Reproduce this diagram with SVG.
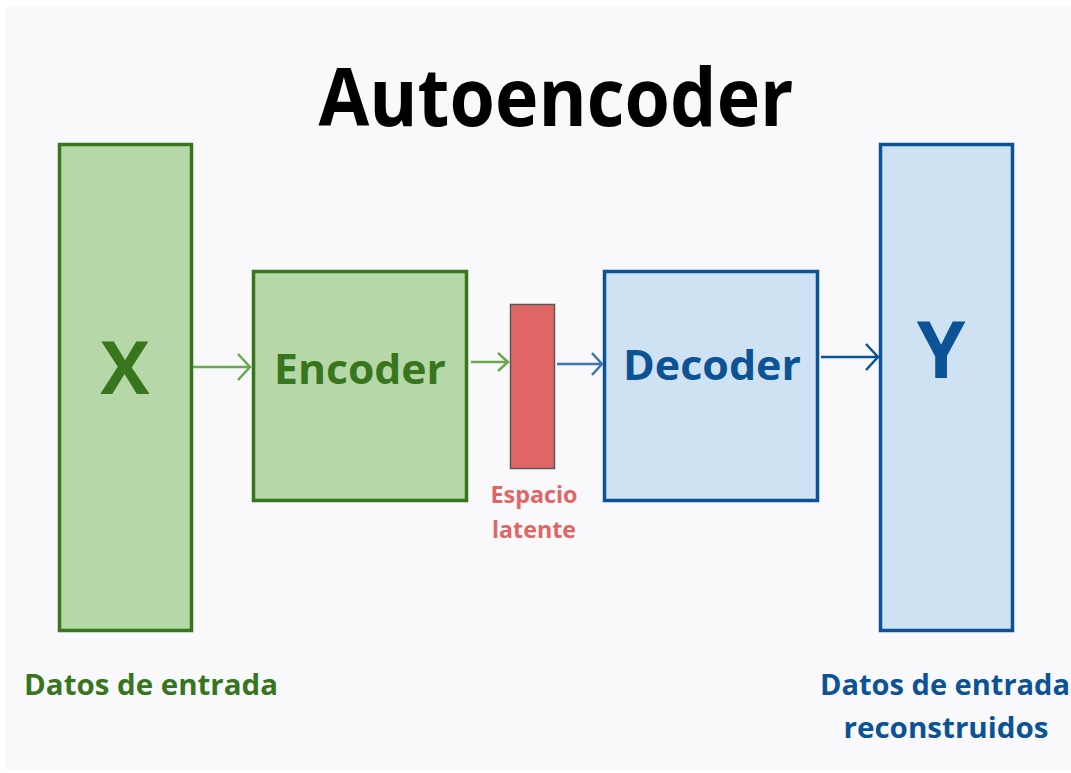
<svg xmlns="http://www.w3.org/2000/svg" width="1071" height="773" viewBox="0 0 1071 773">
<defs>
<style>
text{font-family:"Open Sans","Noto Sans","DejaVu Sans",sans-serif;font-weight:bold;text-anchor:middle}
.g{fill:#b6d7a8;stroke:#38761d;stroke-width:3.5}
.b{fill:#cfe2f3;stroke:#0b5394;stroke-width:3.5}
.gt{fill:#38761d}
.bt{fill:#0b5394}
.ga{stroke:#6aa84f;stroke-width:2.5;fill:none}
.ba{stroke:#3d75b0;stroke-width:2.5;fill:none}
.ba2{stroke:#0b5394;stroke-width:2.5;fill:none}
</style>
</defs>
<rect width="1071" height="773" fill="#ffffff"/>
<rect x="5" y="7" width="1066" height="763" fill="#f9f9fc"/>
<text x="556" y="126" font-size="80" font-weight="800" fill="#000" textLength="475" lengthAdjust="spacingAndGlyphs">Autoencoder</text>
<g id="x-node">
<rect class="g" x="59.5" y="144.5" width="132" height="486"/>
<text class="gt" x="125" y="394" font-size="74" font-weight="800">X</text>
<text class="gt" x="151" y="695" font-size="28" textLength="254" lengthAdjust="spacingAndGlyphs">Datos de entrada</text>
</g>
<g id="encoder">
<rect class="g" x="253.5" y="271.5" width="213" height="229"/>
<text class="gt" x="360" y="384" font-size="42" textLength="172" lengthAdjust="spacingAndGlyphs">Encoder</text>
</g>
<g id="latent">
<rect x="510.5" y="304.5" width="44" height="164" fill="#e06666" stroke="#595959" stroke-width="1.5"/>
<text x="534" y="503" font-size="23" fill="#e06666" textLength="87" lengthAdjust="spacingAndGlyphs">Espacio</text>
<text x="534" y="538" font-size="23" fill="#e06666" textLength="84" lengthAdjust="spacingAndGlyphs">latente</text>
</g>
<g id="decoder">
<rect class="b" x="604.5" y="271.5" width="213" height="229"/>
<text class="bt" x="712" y="380" font-size="42" textLength="178" lengthAdjust="spacingAndGlyphs">Decoder</text>
</g>
<g id="y-node">
<rect class="b" x="880.5" y="144.5" width="132" height="486"/>
<text class="bt" x="941" y="378" font-size="78" font-weight="800">Y</text>
<text class="bt" x="945" y="695" font-size="28" textLength="250" lengthAdjust="spacingAndGlyphs">Datos de entrada</text>
<text class="bt" x="946" y="738" font-size="28" textLength="205" lengthAdjust="spacingAndGlyphs">reconstruidos</text>
</g>
<g id="connectors">
<path class="ga" d="M193 367H249M238 354L250 367L238 380"/>
<path class="ga" d="M471 362H508M498 353L508 362L498 371"/>
<path class="ba" d="M557 364H601M592 353L602 364L592 375"/>
<path class="ba2" d="M821 357H877M866 344L878 357L866 370"/>
</g>
</svg>
